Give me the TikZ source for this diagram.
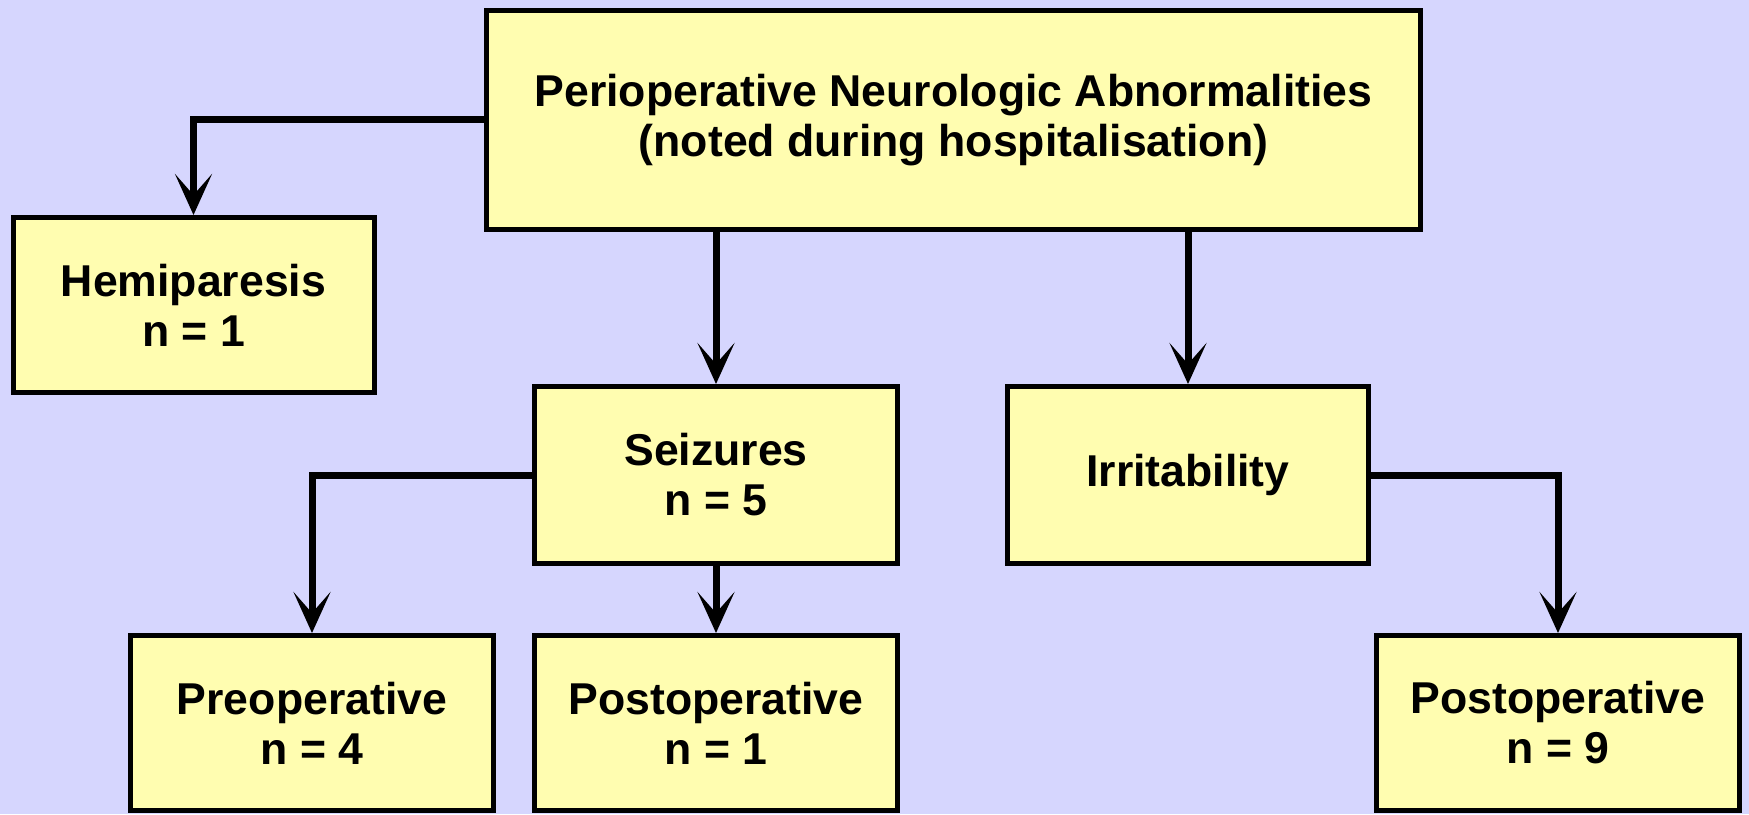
\documentclass[tikz,border=0pt]{standalone}
\usepackage{fontspec}
\setmainfont{Liberation Sans}
\usetikzlibrary{arrows.meta}
\definecolor{bgcol}{RGB}{214,214,254}
\definecolor{boxfill}{RGB}{255,253,176}
\begin{document}
\begin{tikzpicture}[x=0.5pt,y=-0.5pt,
  box/.style={draw=black, line width=2.5pt, fill=boxfill, align=center,
    inner sep=0pt, font=\fontsize{22.3pt}{25pt}\selectfont\bfseries},
  conn/.style={line width=3.5pt, line join=miter,
    -{Stealth[length=20.5pt,width=18.5pt,inset=10.5pt]}}]
\fill[bgcol] (0,0) rectangle (1749,814);
\useasboundingbox (0,0) rectangle (1749,814);

\node[box, minimum width=467pt, minimum height=109.75pt] (top) at (953.5,119.75)
  {Perioperative Neurologic Abnormalities\\(noted during hospitalisation)};
\node[box, minimum width=180.5pt, minimum height=87.5pt] (hemi) at (193.5,305)
  {Hemiparesis\\n = 1};
\node[box, minimum width=181.5pt, minimum height=88.5pt] (seiz) at (716,475)
  {Seizures\\n = 5};
\node[box, minimum width=180.5pt, minimum height=88.5pt] (irr) at (1188,475)
  {Irritability};
\node[box, minimum width=181.5pt, minimum height=87.5pt] (pre) at (312,723)
  {Preoperative\\n = 4};
\node[box, minimum width=181.5pt, minimum height=87.5pt] (postA) at (716,723)
  {Postoperative\\n = 1};
\node[box, minimum width=181.5pt, minimum height=87.5pt] (postB) at (1558,723)
  {Postoperative\\n = 9};

\draw[conn] (top.west) -| (hemi.north);
\draw[conn] (seiz.north |- top.south) -- (seiz.north);
\draw[conn] (irr.north |- top.south) -- (irr.north);
\draw[conn] (seiz.west) -| (pre.north);
\draw[conn] (seiz.south) -- (postA.north);
\draw[conn] (irr.east) -| (postB.north);
\end{tikzpicture}
\end{document}
